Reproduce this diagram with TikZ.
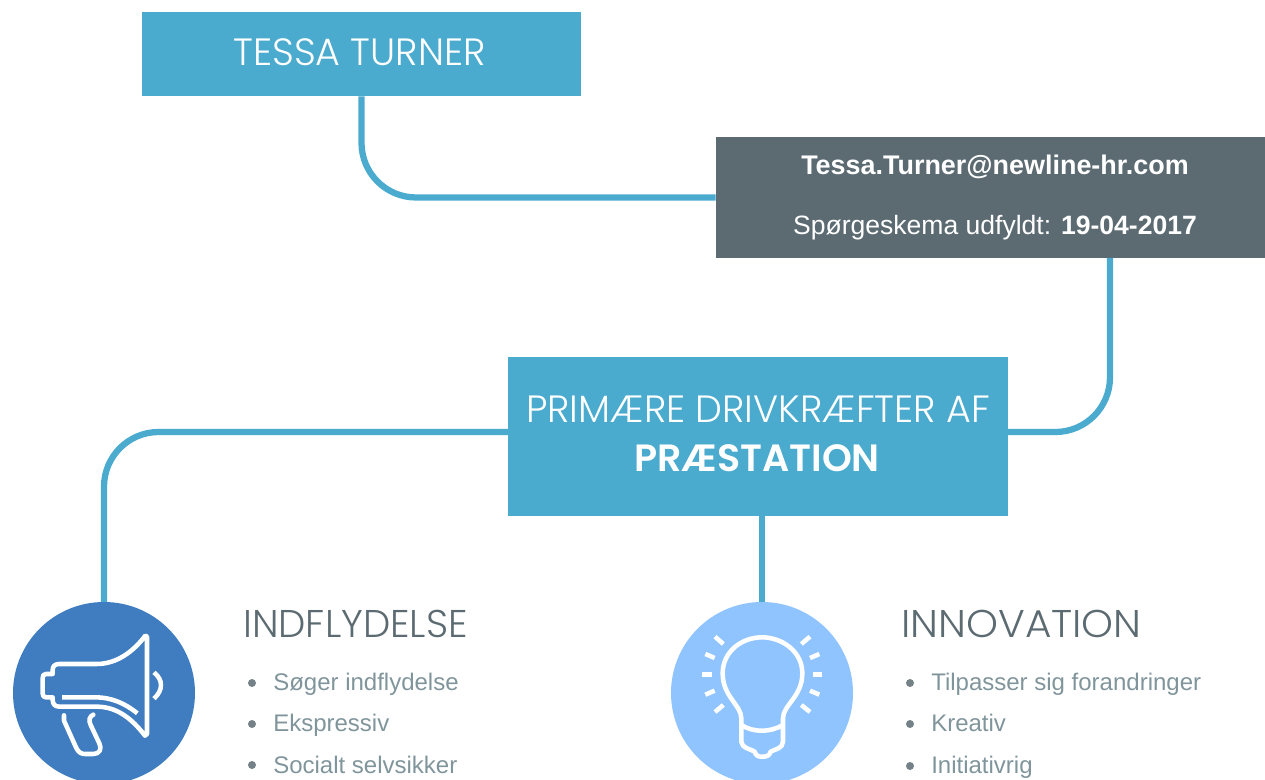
\documentclass[tikz,border=0pt]{standalone}
\usepackage{fontspec}
\usepackage{graphicx}
\setmainfont{Liberation Sans}
\newfontfamily\headfont{Poppins Light}
\newfontfamily\headbold{Poppins SemiBold}
\usetikzlibrary{calc}
\definecolor{teal1}{HTML}{4AABCF}
\definecolor{slate1}{HTML}{5C6B72}
\definecolor{grey1}{HTML}{80959B}
\definecolor{blue1}{HTML}{3F7CC0}
\definecolor{blue2}{HTML}{90C4FF}
\tikzset{
 tealbox/.style={fill=teal1,text=white,inner sep=0pt,align=center},
 slatebox/.style={fill=slate1,text=white,inner sep=0pt,align=center},
 wire/.style={draw=teal1,line width=4.7pt},
 disc/.style={circle,inner sep=0pt,minimum size=136.5pt},
 icon/.style={draw=white,line width=3.4pt,line cap=round,line join=round},
 heading/.style={text=slate1,inner sep=0pt,anchor=west,font=\headfont\fontsize{29}{32}\selectfont},
 bullet/.style={text=grey1,inner sep=0pt,anchor=base west,font=\fontsize{18}{21}\selectfont},
 dot/.style={circle,fill=slate1!85,inner sep=0pt,minimum size=6pt}
}
\begin{document}
\begin{tikzpicture}[x=0.75pt,y=-0.75pt]
\useasboundingbox (0,0) rectangle (1265,780);
% nodes
\node[tealbox,minimum width=329.25pt,minimum height=63pt] (title) at (361.5,54) {};
\node[text=white,inner sep=0pt,font=\headfont\fontsize{28.5}{30}\selectfont] (titletext) at (359.5,52) {TESSA TURNER};
\node[slatebox,minimum width=411.75pt,minimum height=90.75pt] (info) at (990.5,197.5) {};
\node[text=white,inner sep=0pt,anchor=base,font=\bfseries\fontsize{20.2}{22}\selectfont] (mail) at (995,175) {Tessa.Turner@newline-hr.com};
\node[text=white,inner sep=0pt,anchor=base,font=\fontsize{19.9}{22}\selectfont] (date) at (995,235) {Spørgeskema udfyldt: \textbf{19-04-2017}};
\node[tealbox,minimum width=375pt,minimum height=119.25pt] (drive) at (758,436.5) {};
\node[text=white,inner sep=0pt,font=\headfont\fontsize{28.5}{30}\selectfont] (drive1) at (758,409) {PRIMÆRE DRIVKRÆFTER AF};
\node[text=white,inner sep=0pt,font=\headbold\fontsize{28.5}{30}\selectfont] (drive2) at (757,458) {PRÆSTATION};
\node[disc] (c1) at (104,693) {};
\node[disc] (c2) at (762,693) {};
\coordinate (a1) at (1110,258);
\coordinate (a2) at (1008,432);
\coordinate (b1) at (508,432);
\coordinate (b2) at (104,602);
\coordinate (d1) at (762,516);
\coordinate (d2) at (762,602);
% connectors
\draw[wire,rounded corners=41pt] (title.south) |- (info.west);
\draw[wire,rounded corners=41pt] (a1) |- (a2);
\draw[wire,rounded corners=41pt] (b1) -| (b2);
\draw[wire] (d1) -- (d2);
% discs
\fill[blue1] (c1) circle[radius=91];
\fill[blue2] (c2) circle[radius=91];
% megaphone
\begin{scope}[shift={(0,590)},x=0.25pt,y=-0.25pt]
\draw[icon] (436,137) -- (441,140) -- (441,432) -- (435,437)
  .. controls (395,385) and (350,350) .. (290,350) -- (178,350)
  .. controls (165,350) and (158,342) .. (158,330) -- (158,322) -- (138,322)
  .. controls (131,322) and (128,318) .. (128,310) -- (128,264)
  .. controls (128,256) and (131,252) .. (138,252) -- (158,252) -- (158,240)
  .. controls (158,228) and (165,222) .. (178,222) -- (290,222)
  .. controls (350,222) and (400,185) .. (436,137) -- cycle;
\draw[icon,line cap=butt] (186,322) -- (285,322) .. controls (335,322) and (375,340) .. (412,370);
\draw[icon] (192,376) -- (192,392) -- (228,472) .. controls (235,488) and (245,492) .. (255,492) -- (280,492)
  .. controls (300,492) and (306,476) .. (298,460) -- (272,405) .. controls (264,390) and (270,378) .. (280,374);
\draw[icon,line cap=butt] (462,247) .. controls (490,270) and (490,300) .. (462,326);
\end{scope}
% bulb
\begin{scope}[shift={(660,590)},x=0.25pt,y=-0.25pt]
\draw[icon] (244,400) -- (244,385) .. controls (244,345) and (188,320) .. (188,250)
  .. controls (188,185) and (245,142) .. (306,142)
  .. controls (367,142) and (427,185) .. (427,250)
  .. controls (427,320) and (369,345) .. (369,385) -- (369,405)
  .. controls (330,428) and (280,428) .. (244,405) -- (244,455)
  .. controls (244,475) and (275,478) .. (284,485)
  .. controls (288,498) and (295,500) .. (306,500)
  .. controls (320,500) and (328,498) .. (332,485)
  .. controls (345,478) and (369,475) .. (369,455) -- (369,405);
\foreach \xa/\ya/\xb/\yb in {165/140/190/162, 136/192/164/204, 127/253/155/253, 136/314/164/302, 165/366/190/345,
  450/140/424/162, 478/192/450/204, 487/253/459/253, 478/314/450/302, 450/366/424/345}
  \draw[icon,line cap=butt] (\xa,\ya) -- (\xb,\yb);
\end{scope}
% text
\node[heading] (h1) at (243,624) {INDFLYDELSE};
\node[heading] (h2) at (901,624) {\scalebox{1.05}[1]{INNOVATION}};
\node[dot] (d11) at (252,683) {}; \node[bullet] (t11) at (273,691) {Søger indflydelse};
\node[dot] (d12) at (252,724) {}; \node[bullet] (t12) at (273,731) {Ekspressiv};
\node[dot] (d13) at (252,765) {}; \node[bullet] (t13) at (273,773) {Socialt selvsikker};
\node[dot] (d21) at (910,683) {}; \node[bullet] (t21) at (931,691) {Tilpasser sig forandringer};
\node[dot] (d22) at (910,724) {}; \node[bullet] (t22) at (931,731) {Kreativ};
\node[dot] (d23) at (910,766) {}; \node[bullet] (t23) at (931,773) {Initiativrig};
\end{tikzpicture}
\end{document}
